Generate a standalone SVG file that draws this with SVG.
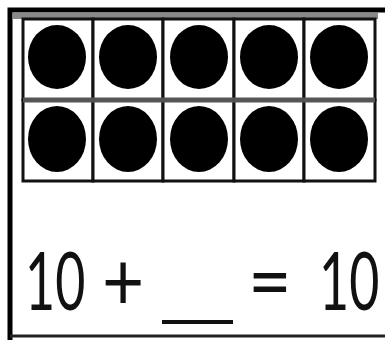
<svg xmlns="http://www.w3.org/2000/svg" width="385" height="340" viewBox="0 0 385 340">
<style>
.cell{fill:#fff;stroke:#111;stroke-width:3}
.dot{fill:#000}
.t{font-family:Lato,"Open Sans","Liberation Sans",sans-serif;font-weight:400;font-size:52px;fill:#111}
</style>
<rect x="0" y="0" width="385" height="340" fill="#fff"/>
<g id="frame">
<path d="M10 340 V10 H385" fill="none" stroke="#000" stroke-width="5"/>
<line x1="13" y1="16" x2="378" y2="16" stroke="#888" stroke-width="6"/>
<line x1="10" y1="336" x2="385" y2="336" stroke="#222" stroke-width="3"/>
</g>
<g id="grid">
<rect class="cell" x="23" y="19" width="70" height="81"/>
<rect class="cell" x="93" y="19" width="70" height="81"/>
<rect class="cell" x="163" y="19" width="71" height="81"/>
<rect class="cell" x="234" y="19" width="70" height="81"/>
<rect class="cell" x="304" y="19" width="71" height="81"/>
<rect class="cell" x="23" y="100" width="70" height="81"/>
<rect class="cell" x="93" y="100" width="70" height="81"/>
<rect class="cell" x="163" y="100" width="71" height="81"/>
<rect class="cell" x="234" y="100" width="70" height="81"/>
<rect class="cell" x="304" y="100" width="71" height="81"/>
<line x1="23" y1="100" x2="375" y2="100" stroke="#555" stroke-width="5"/>
</g>
<g id="dots">
<ellipse class="dot" cx="57" cy="57" rx="29" ry="32"/>
<ellipse class="dot" cx="128" cy="57" rx="29" ry="32"/>
<ellipse class="dot" cx="199" cy="57" rx="29" ry="32"/>
<ellipse class="dot" cx="269" cy="57" rx="29" ry="32"/>
<ellipse class="dot" cx="339" cy="57" rx="29" ry="32"/>
<ellipse class="dot" cx="57" cy="139" rx="29" ry="33"/>
<ellipse class="dot" cx="128" cy="139" rx="29" ry="33"/>
<ellipse class="dot" cx="199" cy="139" rx="29" ry="33"/>
<ellipse class="dot" cx="269" cy="139" rx="29" ry="33"/>
<ellipse class="dot" cx="339" cy="139" rx="29" ry="33"/>
</g>
<g id="equation">
<text class="t" transform="translate(25,310) scale(1,1.55)">10</text>
<text class="t" transform="translate(102,310) scale(1.4,1.55)">+</text>
<line x1="162" y1="322" x2="233" y2="322" stroke="#111" stroke-width="4"/>
<text class="t" transform="translate(248,310) scale(1.45,1.55)">=</text>
<text class="t" transform="translate(319,310) scale(1,1.55)">10</text>
</g>
</svg>
